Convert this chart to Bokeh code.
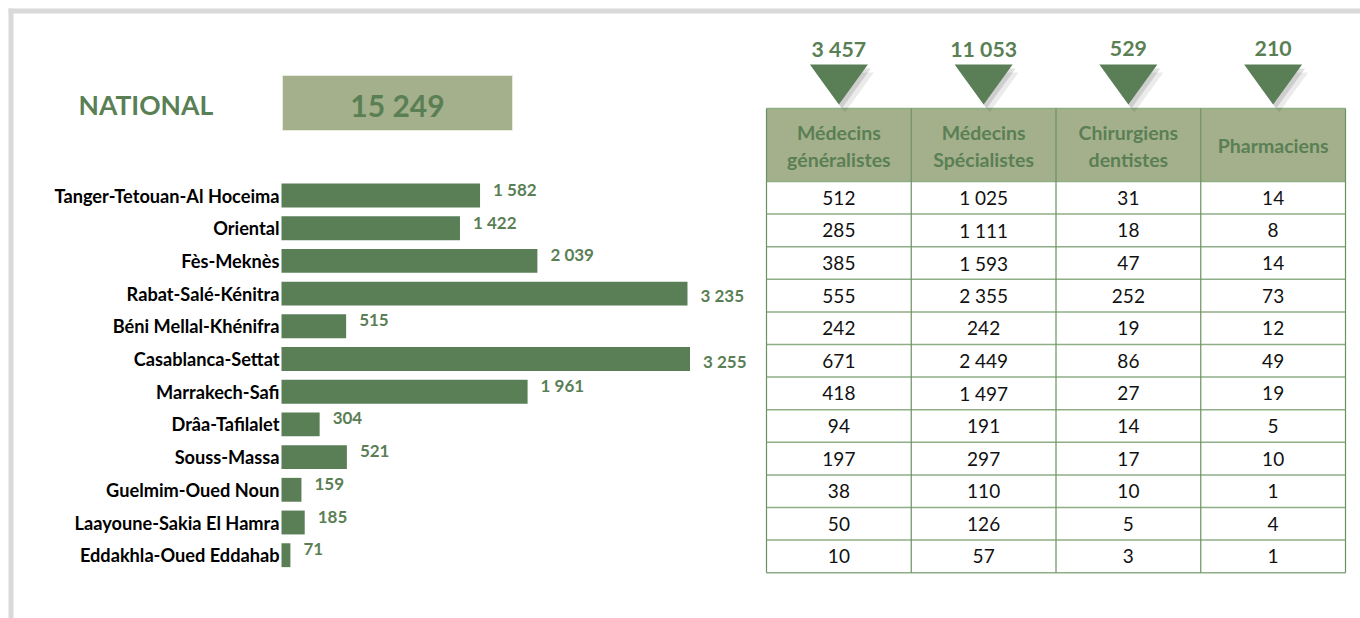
from bokeh.plotting import figure
from bokeh.models import Range1d, ColumnDataSource
from bokeh.core.properties import value
from bokeh.embed import file_html
from bokeh.resources import INLINE

# ---------------- data ----------------
regions = ["Tanger-Tetouan-Al Hoceima", "Oriental", "Fès-Meknès", "Rabat-Salé-Kénitra",
           "Béni Mellal-Khénifra", "Casablanca-Settat", "Marrakech-Safi", "Drâa-Tafilalet",
           "Souss-Massa", "Guelmim-Oued Noun", "Laayoune-Sakia El Hamra", "Eddakhla-Oued Eddahab"]
totals = [1582, 1422, 2039, 3235, 515, 3255, 1961, 304, 521, 159, 185, 71]
generalistes = [512, 285, 385, 555, 242, 671, 418, 94, 197, 38, 50, 10]
specialistes = [1025, 1111, 1593, 2355, 242, 2449, 1497, 191, 297, 110, 126, 57]
dentistes = [31, 18, 47, 252, 19, 86, 27, 14, 17, 10, 5, 3]
pharmaciens = [14, 8, 14, 73, 12, 49, 19, 5, 10, 1, 4, 1]
headers = ["Médecins\ngénéralistes", "Médecins\nSpécialistes", "Chirurgiens\ndentistes", "Pharmaciens"]
column_totals = [3457, 11053, 529, 210]
national_label = "NATIONAL"
national_total = 15249


def fmt(v):
    return f"{v:,}".replace(",", " ")


# ---------------- style / layout ----------------
W, H = 1360, 618
OFF = 0  # image coords -> frame coords
GREEN = "#5a7f57"
TXT_GREEN = "#5a7f55"
LIGHT = "#a4b08b"
LINE = "#6b9162"
FONT = "Lato"

# bar chart geometry (image pixels)
BAR_X0 = 281
PX_PER_UNIT = 0.1255
REG0_Y = 195.0
REG_STEP = 32.7
# table geometry (image pixels)
TAB_L, TAB_R = 766, 1345
COLW = (TAB_R - TAB_L) / 4
ROW0_Y = 197.3
ROWH = 32.6

p = figure(width=W, height=H, x_range=Range1d(0, W), y_range=Range1d(H, 0),
           output_backend="svg", toolbar_location=None, min_border=0,
           x_axis_location=None, y_axis_location=None, outline_line_color=None,
           background_fill_color="white", border_fill_color="white")
p.grid.visible = False

f0 = BAR_X0 - OFF
p.extra_x_ranges["val"] = Range1d(-f0 / PX_PER_UNIT, (W - f0) / PX_PER_UNIT)
r0 = REG0_Y - OFF
p.extra_y_ranges["reg"] = Range1d((H - r0) / REG_STEP, -r0 / REG_STEP)
c0 = TAB_L + COLW / 2 - OFF
p.extra_x_ranges["col"] = Range1d(-c0 / COLW, (W - c0) / COLW)
t0 = ROW0_Y - OFF
p.extra_y_ranges["row"] = Range1d((H - t0) / ROWH, -t0 / ROWH)


def row_of(img_y):
    return (img_y - ROW0_Y) / ROWH


# ---------------- frame border ----------------
p.quad(left=8 - OFF, right=13 - OFF, top=8 - OFF, bottom=H, fill_color="#d9d9d9", line_color=None)
p.quad(left=8 - OFF, right=W, top=8 - OFF, bottom=13 - OFF, fill_color="#d9d9d9", line_color=None)

# ---------------- national ----------------
p.text(x=[78 - OFF], y=[104 - OFF], text=[national_label], text_font=value(FONT),
       text_font_style="bold", text_font_size="26.5px", text_color=TXT_GREEN,
       text_baseline="middle", text_align="left")
p.quad(left=282 - OFF, right=512 - OFF, top=75 - OFF, bottom=130 - OFF,
       fill_color=LIGHT, line_color="#e6ead9", line_width=1)
p.text(x=[397 - OFF], y=[104 - OFF], text=[fmt(national_total)], text_font=value(FONT),
       text_font_style="bold", text_font_size="30px", text_color=TXT_GREEN,
       text_baseline="middle", text_align="center")

# ---------------- bars ----------------
idx = list(range(len(regions)))
bsrc = ColumnDataSource(dict(
    y=idx, v=totals, name=regions, lab=[fmt(v) for v in totals],
    dy=[2 if v > 3000 else -6 for v in totals]))
p.hbar(y="y", left=0, right="v", height=0.73, source=bsrc, fill_color=GREEN,
       line_color=None, x_range_name="val", y_range_name="reg")
p.text(x=0, y="y", text="name", source=bsrc, x_range_name="val", y_range_name="reg",
       x_offset=-2, text_align="right", text_baseline="middle", text_font=value(FONT),
       text_font_style="bold", text_font_size="18.2px", text_color="#000000")
p.text(x="v", y="y", text="lab", source=bsrc, x_range_name="val", y_range_name="reg",
       x_offset=13, y_offset="dy", text_align="left", text_baseline="middle",
       text_font=value(FONT), text_font_style="bold", text_font_size="17px",
       text_color=TXT_GREEN)

# ---------------- table ----------------
ncol = len(headers)
nrow = len(regions)
htop = row_of(108)
# header background
p.quad(left=[j - 0.5 for j in range(ncol)], right=[j + 0.5 for j in range(ncol)],
       top=htop, bottom=-0.5, fill_color=LIGHT, line_color=None,
       x_range_name="col", y_range_name="row")
# header texts
hx, hy, ht = [], [], []
for j, h in enumerate(headers):
    parts = h.split("\n")
    if len(parts) == 2:
        hx += [j, j]
        hy += [row_of(132), row_of(159)]
        ht += parts
    else:
        hx.append(j)
        hy.append(row_of(145))
        ht.append(h)
p.text(x=hx, y=hy, text=ht, x_range_name="col", y_range_name="row",
       text_align="center", text_baseline="middle", text_font=value(FONT),
       text_font_style="bold", text_font_size="19.5px", text_color=TXT_GREEN)

# cells
cols = [generalistes, specialistes, dentistes, pharmaciens]
cx, cy, ct = [], [], []
for j, col in enumerate(cols):
    for i, v in enumerate(col):
        cx.append(j)
        cy.append(i)
        ct.append(fmt(v))
p.text(x=cx, y=cy, text=ct, x_range_name="col", y_range_name="row",
       text_align="center", text_baseline="middle", text_font=value(FONT),
       text_font_size="19px", text_color="#111111")

# grid lines
hlines_y = [htop] + [i - 0.5 for i in range(nrow + 1)]
p.segment(x0=-0.5, x1=ncol - 0.5, y0=hlines_y, y1=hlines_y, line_color="#8fae86",
          line_width=1.5, x_range_name="col", y_range_name="row")
vlines_x = [j - 0.5 for j in range(ncol + 1)]
p.segment(x0=vlines_x, x1=vlines_x, y0=htop, y1=nrow - 0.5, line_color=LINE,
          line_width=1.2, x_range_name="col", y_range_name="row")

# triangles with totals
tri_top, tri_apex, half = row_of(64), row_of(104), 29 / COLW
sdx, sdy = 3 / COLW, 4 / ROWH
for a, dd in ((0.08, 2.0), (0.12, 1.0)):
    p.patches(xs=[[j - half + sdx * dd, j + half + sdx * dd, j + sdx * dd] for j in range(ncol)],
              ys=[[tri_top + sdy * dd, tri_top + sdy * dd, tri_apex + sdy * dd] for _ in range(ncol)],
              fill_color="#000000", fill_alpha=a, line_color=None,
              x_range_name="col", y_range_name="row")
p.patches(xs=[[j - half, j + half, j] for j in range(ncol)],
          ys=[[tri_top, tri_top, tri_apex] for _ in range(ncol)],
          fill_color=GREEN, line_color=None, x_range_name="col", y_range_name="row")
p.text(x=list(range(ncol)), y=[row_of(48)] * ncol, text=[fmt(v) for v in column_totals],
       x_range_name="col", y_range_name="row", text_align="center", text_baseline="middle",
       text_font=value(FONT), text_font_style="bold", text_font_size="21.3px",
       text_color=TXT_GREEN)

open("out.html", "w").write(file_html(p, INLINE))
